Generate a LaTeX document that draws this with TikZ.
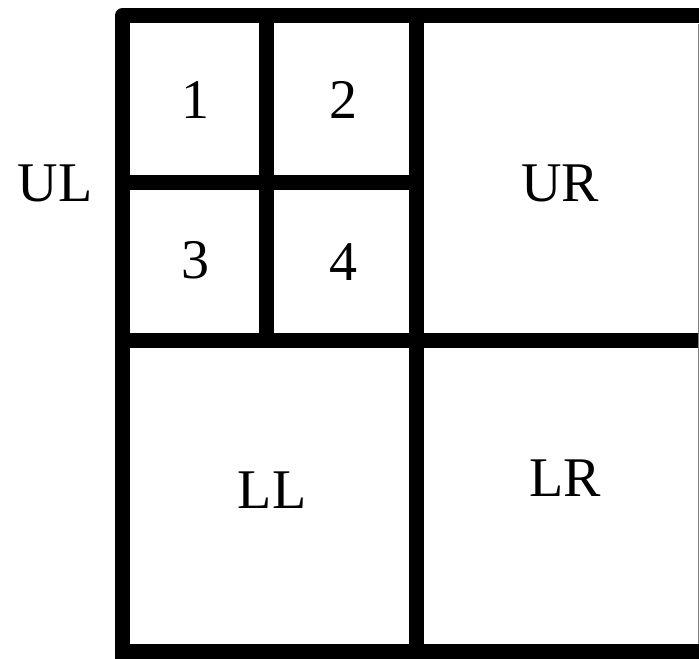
\documentclass[tikz,border=0pt]{standalone}
\usepackage{fontspec}
\setmainfont{Liberation Serif}
\begin{document}
\begin{tikzpicture}[x=0.5pt, y=-0.5pt, line join=round, font=\fontsize{28}{32}\selectfont]
			\tikzset{wall/.style={line width=7.5pt}, lbl/.style={inner sep=0pt}}
			\def \xmin{0}
			\def \xmax{699}
			\def \ymin{0}
			\def \ymax{658}
			\useasboundingbox (\xmin,\ymin) rectangle (\xmax,\ymax);
			\clip (\xmin,\ymin) rectangle (\xmax,\ymax);
			
			\path 
			(122,16) coordinate (NW)
			(416,340) coordinate (C)
			(266,182) coordinate (c)
			;
			\draw[wall] (122,680)--(NW)--(720,16);
			\draw[wall] (122,651)--(720,651);
			\draw[wall] (416,16)--(416,680);
			\draw[wall] (122,340)--(720,340);
			\draw[wall] (266,16)--(266,340);
			\draw[wall] (122,182)--(416,182);
			\draw[gray, line width=0.6pt] (698.5,24)--(698.5,644);
			
			\node[lbl] (ul) at (55,183) {UL};
			\node[lbl] (q1) at (195,100) {1};
			\node[lbl] (q2) at (343,100) {2};
			\node[lbl] (q3) at (195,260) {3};
			\node[lbl] (q4) at (343,262) {4};
			\node[lbl] (ur) at (560,183) {UR};
			\node[lbl] (ll) at (272,490) {LL};
			\node[lbl] (lr) at (565,478) {LR};
		\end{tikzpicture}
\end{document}
